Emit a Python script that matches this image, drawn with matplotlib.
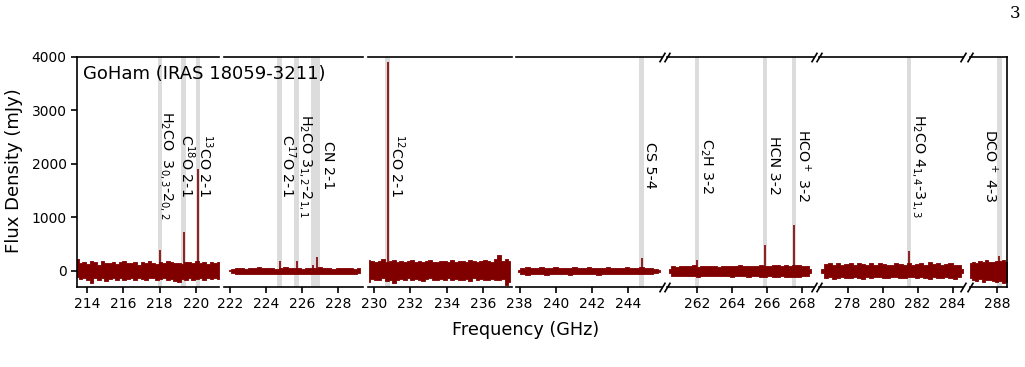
import numpy as np
import matplotlib
matplotlib.use("Agg")
from matplotlib import pyplot as plt
from matplotlib.ticker import MultipleLocator

# noise band of each spectral window (GHz), upper / lower excursions in mJy
win_lo = [213.45, 221.9, 229.7, 237.9, 260.4, 276.5, 286.5]
win_hi = [221.25, 229.2, 237.5, 245.8, 268.55, 284.6, 288.55]

upper = [
    [230, 150, 170, 130, 180, 160, 120, 190, 150, 140, 170, 130, 160, 180, 140, 150, 170, 120, 160, 150,
     180, 140, 130, 170, 150, 190, 160, 140, 150, 130, 170, 160, 150, 180, 140, 170, 130, 160, 150, 170],
    [10, 30, 55, 60, 45, 60, 50, 65, 55, 50, 60, 45, 55, 65, 50, 60, 55, 45, 60, 50,
     55, 65, 50, 60, 45, 55, 60, 50, 55, 45, 50],
    [200, 180, 170, 190, 220, 160, 180, 200, 170, 190, 160, 180, 210, 170, 190, 160, 180, 200, 170, 160,
     190, 180, 170, 200, 160, 190, 180, 170, 200, 180, 160, 190, 210, 180, 170, 220, 300, 190, 230, 180],
    [20, 50, 70, 60, 55, 65, 50, 60, 70, 55, 60, 50, 65, 55, 60, 70, 50, 60, 55, 65,
     60, 50, 55, 65, 60, 55, 70, 60, 50, 45, 20],
    [30, 90, 80, 100, 85, 90, 110, 80, 95, 85, 100, 90, 80, 95, 100, 85, 90, 105, 95, 85,
     100, 90, 110, 95, 100, 120, 105, 95, 110, 100, 115, 105, 100, 90, 40],
    [40, 130, 150, 120, 140, 110, 130, 150, 120, 140, 130, 110, 140, 120, 150, 130, 110, 120, 140, 130,
     120, 150, 110, 130, 140, 120, 160, 130, 140, 120, 130, 150, 120, 110, 40],
    [140, 170, 150, 180, 160, 200, 170, 160, 190, 180, 210, 170],
]
lower = [
    [-120, -150, -130, -170, -220, -140, -160, -130, -180, -150, -140, -170, -130, -160, -150, -140, -170, -130, -150, -160,
     -140, -130, -170, -150, -140, -160, -150, -190, -200, -150, -170, -140, -160, -150, -130, -160, -140, -150, -130, -150],
    [-10, -30, -55, -65, -50, -60, -55, -50, -65, -55, -60, -50, -55, -60, -50, -65, -55, -60, -50, -55,
     -65, -50, -60, -55, -50, -60, -55, -50, -60, -50, -45],
    [-200, -150, -170, -160, -140, -180, -160, -230, -170, -150, -160, -140, -170, -150, -160, -180, -150, -140, -170, -160,
     -150, -170, -140, -160, -150, -170, -160, -150, -180, -140, -160, -150, -170, -160, -150, -170, -160, -150, -260, -200],
    [-20, -50, -70, -65, -60, -55, -70, -60, -55, -65, -60, -70, -55, -60, -65, -55, -60, -70, -60, -55,
     -65, -60, -55, -60, -65, -55, -60, -65, -55, -45, -20],
    [-30, -90, -85, -100, -90, -95, -85, -110, -90, -100, -95, -85, -100, -90, -95, -110, -90, -100, -95, -120,
     -100, -95, -110, -105, -100, -115, -110, -100, -120, -105, -110, -115, -100, -90, -40],
    [-40, -140, -120, -150, -130, -120, -140, -130, -110, -130, -150, -120, -130, -110, -120, -140, -130, -110, -120, -140,
     -130, -120, -110, -140, -120, -130, -150, -120, -130, -140, -120, -130, -150, -120, -40],
    [-140, -160, -180, -150, -200, -170, -160, -190, -210, -180, -220, -200],
]

# detected lines
line_freq = [218.03, 219.32, 220.12, 224.74, 225.69, 226.60, 226.82, 230.75, 244.77, 262.0, 265.89, 267.54, 281.50, 288.15]
line_peak = [400, 720, 1910, 190, 185, 115, 265, 3900, 245, 200, 490, 850, 375, 280]
band_freq = [218.03, 219.32, 220.12, 224.74, 225.69, 226.62, 226.84, 230.75, 244.77, 262.0, 265.89, 267.54, 281.50, 288.15]

labels = ["H$_2$CO  3$_{0,3}$-2$_{0,2}$", "C$^{18}$O 2-1", "$^{13}$CO 2-1", "C$^{17}$O 2-1",
          "H$_2$CO 3$_{1,2}$-2$_{1,1}$", "CN 2-1", "$^{12}$CO 2-1", "CS 5-4", "C$_2$H 3-2",
          "HCN 3-2", "HCO$^+$ 3-2", "H$_2$CO 4$_{1,4}$-3$_{1,3}$", "DCO$^+$ 4-3"]
label_x = [218.36, 219.5, 220.5, 225.2, 226.18, 227.42, 231.27, 245.26, 262.53, 266.42, 268.07, 282.03, 287.65]

# layout
xlims = [(213.45, 221.27), (221.64, 229.39), (229.67, 237.6), (237.8, 245.9),
         (260.3, 268.7), (276.36, 284.6), (286.5, 288.57)]
seg_px = [(77, 219), (224, 363), (368, 512), (516, 662), (667, 814), (819, 963), (970, 1007)]
brk_left = [False, False, False, False, True, True, True]
brk_right = [False, False, False, True, True, True, False]

red = '#800000'
W, H = 1025, 367
top_px, bot_px = 57, 287

fig = plt.figure(figsize=(W / 100, H / 100), dpi=100)

for i in range(len(xlims)):
    p0, p1 = seg_px[i]
    ax = fig.add_axes([p0 / W, 1 - bot_px / H, (p1 - p0) / W, (bot_px - top_px) / H])
    x0, x1 = xlims[i]

    for f in band_freq:
        ax.axvspan(f - 0.125, f + 0.125, color='#dcdcdc', lw=0, zorder=0)

    f = np.linspace(win_lo[i], win_hi[i], len(upper[i]))
    ax.fill_between(f, lower[i], upper[i], step='mid', color=red, lw=0.6, zorder=2)
    ax.vlines(line_freq, 0, line_peak, color=red, lw=1.2, zorder=3)

    for lab, lx in zip(labels, label_x):
        if x0 < lx < x1:
            ax.text(lx, 1970, lab, rotation=270, ha='center', va='center', fontsize=10.3)

    ax.set_xlim(x0, x1)
    ax.set_ylim(-300, 4000)
    ax.xaxis.set_major_locator(MultipleLocator(2))
    ax.tick_params(direction='out', length=4, width=1.2, labelsize=10)

    for s in ax.spines.values():
        s.set_linewidth(1.2)
    ax.spines['right'].set_visible(i == len(xlims) - 1)
    ax.spines['left'].set_visible(i == 0)
    if i == 0:
        ax.set_yticks([0, 1000, 2000, 3000, 4000])
    else:
        ax.tick_params(axis='y', left=False, labelleft=False)

    kw = dict(marker=[(-0.6, -1), (0.6, 1)], markersize=7, linestyle='none',
              color='k', mec='k', mew=1.2, clip_on=False, transform=ax.transAxes)
    if brk_left[i]:
        ax.plot([0, 0], [0, 1], **kw)
    if brk_right[i]:
        ax.plot([1, 1], [0, 1], **kw)

fig.text(83 / W, 1 - 74 / H, "GoHam (IRAS 18059-3211)", fontsize=13, ha='left', va='center')
fig.text(526 / W, 1 - 330 / H, "Frequency (GHz)", fontsize=12.7, ha='center', va='center')
fig.text(14 / W, 1 - 171 / H, "Flux Density (mJy)", fontsize=13, rotation=90, ha='center', va='center')
fig.text(1015 / W, 1 - 14 / H, "3", fontsize=12, family='DejaVu Serif', ha='center', va='center')

fig.savefig('out.png', dpi=100)
